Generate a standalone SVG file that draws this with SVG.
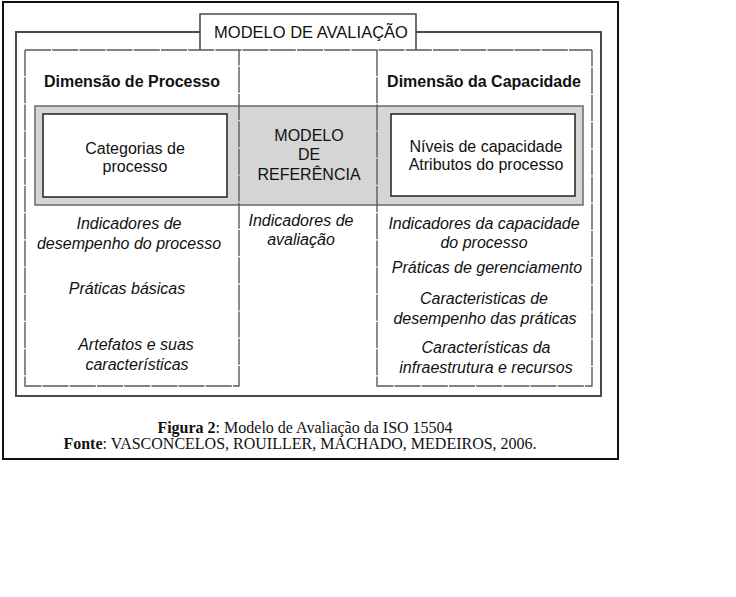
<svg xmlns="http://www.w3.org/2000/svg" width="736" height="597" viewBox="0 0 736 597">
<defs>
<style>
.t{font-family:"Liberation Sans",Arial,sans-serif;font-size:16px;fill:#111;text-anchor:middle}
.b{font-weight:bold}
.i{font-style:italic}
.cap{font-family:"Liberation Serif","Times New Roman",serif;font-size:16px;fill:#111;text-anchor:middle}
.frame{fill:none;stroke:#4a4a4a;stroke-width:2}
.inner{fill:none;stroke:#5a5a5a;stroke-width:1.4;stroke-dasharray:26 1.2}
.box{fill:#fff;stroke:#222;stroke-width:1.5}
</style>
</defs>
<rect width="736" height="597" fill="#fff"/>
<rect x="3" y="2" width="615" height="457" fill="none" stroke="#111" stroke-width="2"/>

<g id="modelo-avaliacao">
<path class="frame" d="M200,32 H16 V396 H601 V32 H416"/>
<path d="M200,50 V14 H416 V50" fill="#fff" stroke="#4a4a4a" stroke-width="1.6"/>
<text class="t" x="311" y="38" style="font-size:16.5px">MODELO DE AVALIAÇÃO</text>
</g>

<g id="faixa-cinza">
<rect x="35" y="106" width="548" height="99" fill="#d5d5d5" stroke="#6a6a6a" stroke-width="1.5"/>
</g>

<g id="colunas">
<path class="inner" d="M25,50 H592"/>
<path class="inner" d="M25,50 V386 H239 V50"/>
<path class="inner" d="M377,50 V386 H592 V50"/>
</g>

<g id="dimensao-processo">
<text class="t b" x="132" y="87">Dimensão de Processo</text>
</g>
<g id="dimensao-capacidade">
<text class="t b" x="484" y="87">Dimensão da Capacidade</text>
</g>

<g id="categorias">
<rect class="box" x="43" y="114" width="184" height="83"/>
<text class="t" x="135" y="154">Categorias de</text>
<text class="t" x="135" y="172">processo</text>
</g>

<g id="modelo-referencia">
<text class="t" x="309" y="140.5">MODELO</text>
<text class="t" x="309" y="160">DE</text>
<text class="t" x="309" y="179.5">REFERÊNCIA</text>
</g>

<g id="niveis">
<rect class="box" x="391" y="114" width="184" height="82"/>
<text class="t" x="486" y="152">Níveis de capacidade</text>
<text class="t" x="486" y="170">Atributos do processo</text>
</g>

<g id="itens-processo">
<text class="t i" x="129" y="229">Indicadores de</text>
<text class="t i" x="129" y="249">desempenho do processo</text>
<text class="t i" x="127" y="294">Práticas básicas</text>
<text class="t i" x="136" y="350">Artefatos e suas</text>
<text class="t i" x="137" y="370">características</text>
</g>

<g id="itens-referencia">
<text class="t i" x="301" y="226">Indicadores de</text>
<text class="t i" x="301" y="245">avaliação</text>
</g>

<g id="itens-capacidade">
<text class="t i" x="484" y="229">Indicadores da capacidade</text>
<text class="t i" x="484" y="248">do processo</text>
<text class="t i" x="487" y="272.5">Práticas de gerenciamento</text>
<text class="t i" x="484" y="304">Caracteristicas de</text>
<text class="t i" x="485" y="324">desempenho das práticas</text>
<text class="t i" x="486" y="353">Características da</text>
<text class="t i" x="486" y="373">infraestrutura e recursos</text>
</g>

<g id="connectors"></g>

<g id="legenda">
<text class="cap" x="305" y="433"><tspan font-weight="bold">Figura 2</tspan>: Modelo de Avaliação da ISO 15504</text>
<text class="cap" x="300" y="449"><tspan font-weight="bold">Fonte</tspan>: VASCONCELOS, ROUILLER, MACHADO, MEDEIROS, 2006.</text>
</g>
</svg>
